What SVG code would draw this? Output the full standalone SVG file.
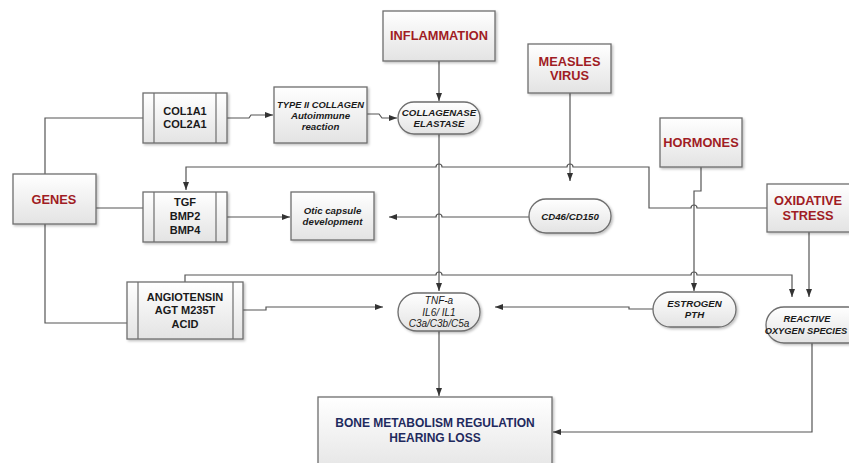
<svg xmlns="http://www.w3.org/2000/svg" width="849" height="463" viewBox="0 0 849 463">
<defs>
<linearGradient id="g" x1="0" y1="0" x2="0" y2="1">
<stop offset="0" stop-color="#ffffff"/>
<stop offset="1" stop-color="#e3e3e3"/>
</linearGradient>
<filter id="sh" x="-10%" y="-10%" width="130%" height="140%">
<feDropShadow dx="1.5" dy="1.5" stdDeviation="1" flood-color="#000" flood-opacity="0.25"/>
</filter>
<marker id="ar" viewBox="0 0 8 6" refX="8" refY="3" markerWidth="8" markerHeight="6" markerUnits="userSpaceOnUse" orient="auto">
<path d="M0,0 L8,3 L0,6 z" fill="#333"/>
</marker>
</defs>
<style>
.box{fill:url(#g);stroke:#6e6e6e;stroke-width:1.3;filter:url(#sh)}
.in{fill:none;stroke:#6e6e6e;stroke-width:1.2}
.red{font-family:"Liberation Sans",Arial,sans-serif;font-weight:bold;font-size:12.8px;fill:#a01c24;text-anchor:middle}
.blk{font-family:"Liberation Sans",Arial,sans-serif;font-weight:bold;font-size:11px;fill:#1a1a1a;text-anchor:middle}
.it{font-family:"Liberation Sans",Arial,sans-serif;font-weight:bold;font-style:italic;font-size:9.7px;fill:#1a1a1a;text-anchor:middle}
.its{font-family:"Liberation Sans",Arial,sans-serif;font-weight:bold;font-style:italic;font-size:9.3px;fill:#1a1a1a;text-anchor:middle}
.itn{font-family:"Liberation Sans",Arial,sans-serif;font-style:italic;font-size:10px;fill:#1a1a1a;text-anchor:middle}
.navy{font-family:"Liberation Sans",Arial,sans-serif;font-weight:bold;font-size:12px;fill:#1f2a5e;text-anchor:middle}
.con{fill:none;stroke:#555;stroke-width:1.2}
.arr{marker-end:url(#ar)}
</style>
<rect width="849" height="463" fill="#ffffff"/>

<g id="connectors">
<path class="con" d="M45,174 L45,118 L143,118"/>
<path class="con" d="M96,208 L143,208"/>
<path class="con" d="M45,224 L45,323 L127,323"/>
<path class="con arr" d="M227,118 L249,118 L251,115 L273,115"/>
<path class="con arr" d="M367,114 L379,114 L382,118 L397,118"/>
<path class="con arr" d="M439,61 L439,101"/>
<path class="con arr" d="M439,134 L439,291"/>
<path class="con arr" d="M570,93 L570,181"/>
<path class="con arr" d="M529,217 L442,217 A3,3 0 0 0 436,217 L389,217"/>
<path class="con arr" d="M227,217 L290,217"/>
<path class="con arr" d="M767,208 L697,208 A3,3 0 0 0 691,208 L649,208 L649,167 L573,167 A3,3 0 0 0 567,167 L442,167 A3,3 0 0 0 436,167 L186,167 L186,190"/>
<path class="con arr" d="M701,167 L701,191 L694,191 L694,291"/>
<path class="con arr" d="M185,282 L185,275 L436,275 A3,3 0 0 1 442,275 L691,275 A3,3 0 0 1 697,275 L792,275 L792,297"/>
<path class="con arr" d="M809,232 L809,297"/>
<path class="con arr" d="M243,310 L266,310 L266,307 L383,307"/>
<path class="con arr" d="M653,309 L629,309 L629,307 L495,307"/>
<path class="con arr" d="M439,331 L439,396"/>
<path class="con arr" d="M812,343 L812,432 L553,432"/>
</g>

<g id="genes">
<rect class="box" x="13" y="174" width="83" height="50"/>
<text class="red" x="54" y="203.5">GENES</text>
</g>

<g id="col">
<rect class="box" x="143" y="93" width="84" height="50"/>
<path class="in" d="M154,93 V143 M216,93 V143"/>
<text class="blk" x="185" y="115">COL1A1</text>
<text class="blk" x="185" y="128">COL2A1</text>
</g>

<g id="tgf">
<rect class="box" x="143" y="192" width="84" height="50"/>
<path class="in" d="M154,192 V242 M216,192 V242"/>
<text class="blk" x="185" y="206">TGF</text>
<text class="blk" x="185" y="220">BMP2</text>
<text class="blk" x="185" y="234">BMP4</text>
</g>

<g id="angiotensin">
<rect class="box" x="127" y="282" width="116" height="57"/>
<path class="in" d="M138,282 V339 M233,282 V339"/>
<text class="blk" x="185" y="301">ANGIOTENSIN</text>
<text class="blk" x="185" y="314">AGT M235T</text>
<text class="blk" x="185" y="328">ACID</text>
</g>

<g id="type2">
<rect class="box" x="274" y="87" width="93" height="56"/>
<text class="its" x="320.5" y="107.5">TYPE II COLLAGEN</text>
<text class="it" x="320.5" y="118.5">Autoimmune</text>
<text class="it" x="320.5" y="129.5">reaction</text>
</g>

<g id="otic">
<rect class="box" x="291" y="192" width="83" height="48"/>
<text class="it" x="332.5" y="214">Otic capsule</text>
<text class="it" x="332.5" y="225">development</text>
</g>

<g id="inflammation">
<rect class="box" x="383" y="11" width="112" height="50"/>
<text class="red" x="439" y="39.5">INFLAMMATION</text>
</g>

<g id="collagenase">
<rect class="box" x="398" y="102" width="82" height="32" rx="16" ry="16"/>
<text class="it" x="439" y="115.5">COLLAGENASE</text>
<text class="it" x="439" y="126.5">ELASTASE</text>
</g>

<g id="measles">
<rect class="box" x="528" y="44" width="83" height="49"/>
<text class="red" x="569.5" y="65.5">MEASLES</text>
<text class="red" x="569.5" y="79.5">VIRUS</text>
</g>

<g id="cd46">
<rect class="box" x="529" y="199" width="82" height="34" rx="17" ry="17"/>
<text class="it" x="570" y="219.5">CD46/CD150</text>
</g>

<g id="hormones">
<rect class="box" x="660" y="118" width="82" height="49"/>
<text class="red" x="701" y="146.5">HORMONES</text>
</g>

<g id="oxidative">
<rect class="box" x="767" y="184" width="100" height="48"/>
<text class="red" x="808" y="204.5">OXIDATIVE</text>
<text class="red" x="808" y="219.5">STRESS</text>
</g>

<g id="tnf">
<rect class="box" x="398" y="293" width="82" height="38" rx="19" ry="19"/>
<text class="itn" x="439" y="303.5">TNF-a</text>
<text class="itn" x="439" y="315.5">IL6/ IL1</text>
<text class="itn" x="439" y="326.5">C3a/C3b/C5a</text>
</g>

<g id="estrogen">
<rect class="box" x="653" y="292" width="83" height="35" rx="17.5" ry="17.5"/>
<text class="it" x="694.5" y="306.5">ESTROGEN</text>
<text class="it" x="694.5" y="317.5">PTH</text>
</g>

<g id="reactive">
<rect class="box" x="766" y="307" width="100" height="36" rx="18" ry="18"/>
<text class="its" x="807" y="322">REACTIVE</text>
<text class="its" x="806" y="334">OXYGEN SPECIES</text>
</g>

<g id="bone">
<rect class="box" x="318" y="397" width="234" height="80"/>
<text class="navy" x="435" y="427">BONE METABOLISM REGULATION</text>
<text class="navy" x="435" y="442">HEARING LOSS</text>
</g>
</svg>
